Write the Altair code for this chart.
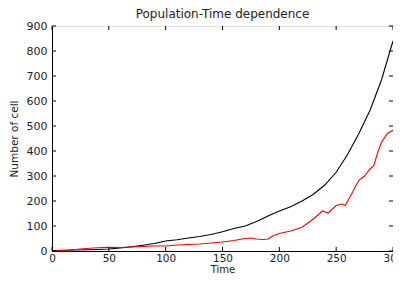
import altair as alt
import pandas as pd

time_black = [0, 10, 20, 30, 40, 50, 60, 70, 80, 90, 100, 110, 120, 130, 140, 150, 160, 170, 180, 190,
              200, 210, 220, 230, 240, 250, 260, 270, 280, 290, 300]
black_vals = [2, 3, 4, 5, 6, 8, 12, 17, 23, 30, 40, 45, 52, 58, 66, 77, 90, 100, 118, 140,
              160, 177, 200, 227, 264, 315, 386, 470, 565, 686, 840]

time_red = [0, 10, 20, 30, 40, 50, 60, 70, 80, 90, 100, 110, 120, 130, 140, 150, 160, 170, 175, 180,
            185, 190, 195, 200, 210, 220, 230, 238, 243, 250, 255, 258, 262, 270, 275, 280, 283, 287,
            290, 295, 300]
red_vals = [0, 2, 6, 10, 13, 15, 14, 16, 18, 20, 20, 24, 26, 28, 32, 36, 42, 50, 52, 48,
            46, 48, 62, 70, 80, 95, 128, 160, 152, 182, 188, 182, 215, 283, 300, 329, 340, 400,
            435, 470, 483]

x_ticks = [0, 50, 100, 150, 200, 250, 300]
y_ticks = [0, 100, 200, 300, 400, 500, 600, 700, 800, 900]

W, H = 341, 225
FONT = "DejaVu Sans"

df = pd.concat([
    pd.DataFrame({"t": time_black, "n": black_vals, "s": "black"}),
    pd.DataFrame({"t": time_red, "n": red_vals, "s": "red"}),
])

xs = alt.Scale(domain=[0, 300], nice=False)
ys = alt.Scale(domain=[0, 900], nice=False)

common = dict(tickSize=0, domainColor="black", labelColor="#222", titleColor="#222",
              labelFont=FONT, titleFont=FONT,
              grid=False, labelFlush=False, labelOverlap=False, titleFontWeight="normal")
xaxis = alt.Axis(values=x_ticks, labelPadding=2, labelFontSize=10.5, titleFontSize=10,
                 titleY=21, titleBaseline="alphabetic", **common)
yaxis = alt.Axis(values=y_ticks, labelPadding=5, titlePadding=7, labelFontSize=11,
                 titleFontSize=10.5, **common)

lines = alt.Chart(df).mark_line(strokeWidth=1.1, clip=True).encode(
    x=alt.X("t:Q", scale=xs, title="Time", axis=xaxis),
    y=alt.Y("n:Q", scale=ys, title="Number of cell", axis=yaxis),
    color=alt.Color("s:N", scale=alt.Scale(domain=["black", "red"], range=["#000000", "#ff0000"]), legend=None),
    detail="s:N",
)

xt = pd.DataFrame({"t": x_ticks})
yt = pd.DataFrame({"n": y_ticks})

xb = alt.Chart(xt).mark_rule(color="black", strokeWidth=1).encode(
    x=alt.X("t:Q", scale=xs, title="Time", axis=xaxis), y=alt.value(H), y2=alt.value(H - 4))
xtop = alt.Chart(xt).mark_rule(color="black", strokeWidth=1).encode(
    x=alt.X("t:Q", scale=xs, title="Time", axis=xaxis), y=alt.value(0), y2=alt.value(4))
yl = alt.Chart(yt).mark_rule(color="black", strokeWidth=1).encode(
    y=alt.Y("n:Q", scale=ys, title="Number of cell", axis=yaxis), x=alt.value(0), x2=alt.value(4))
yr = alt.Chart(yt).mark_rule(color="black", strokeWidth=1).encode(
    y=alt.Y("n:Q", scale=ys, title="Number of cell", axis=yaxis), x=alt.value(W), x2=alt.value(W - 4))

chart = alt.layer(lines, xb, xtop, yl, yr).properties(
    width=W, height=H,
    title=alt.Title("Population-Time dependence", font=FONT, fontSize=12, fontWeight="normal",
                    color="#222", offset=0, dy=1),
    autosize=alt.AutoSizeParams(type="none"),
    padding={"left": 44, "top": 18, "right": 0, "bottom": 22},
).configure_view(stroke="black", strokeWidth=1).configure(background="white")

chart.save("out.html", embed_options={"renderer": "svg", "actions": False})
